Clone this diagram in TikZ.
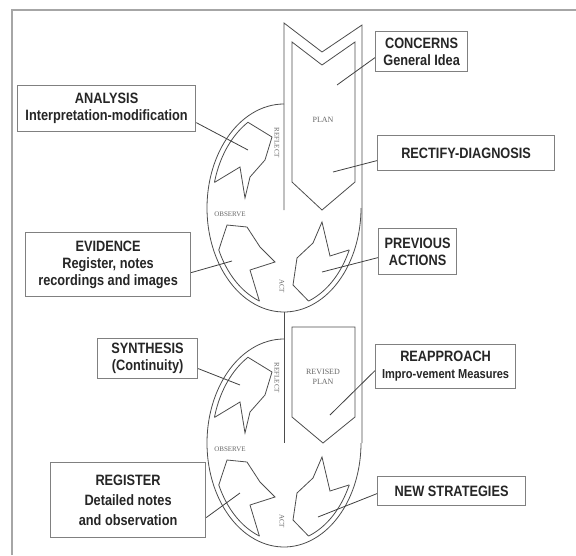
\documentclass[tikz,border=0pt]{standalone}
\usepackage{fontspec}
\newfontfamily\boxfont[FakeStretch=0.85]{Liberation Sans}
\newfontfamily\labfont{Liberation Serif}
\usetikzlibrary{calc}
\begin{document}
\begin{tikzpicture}[x=1pt,y=-1pt,
  frame/.style={draw=black!35, line width=1.6pt},
  ln/.style={draw=black!70, line width=0.8pt},
  tbox/.style={draw=black!50, line width=1.2pt, fill=white, inner sep=0pt, align=center,
    font=\boxfont\bfseries\fontsize{15}{17}\selectfont, text=black!85, anchor=north west},
  lab/.style={font=\labfont\fontsize{7}{8}\selectfont, text=black!60, inner sep=0.5pt},
  callout/.style={draw=black!75, line width=0.8pt}
]
\useasboundingbox (0,0) rectangle (576,555);
\draw[frame] (12,555) -- (12,10) -- (576,10);

% PLAN band (top)
\draw[ln] (284,210) -- (284,23) -- (322,52) -- (362,25) -- (362,443);
\draw[ln] (292,42) -- (322,65) -- (355,42) -- (355,182) -- (322,210) -- (292,182) -- cycle;
\node[lab, font=\labfont\fontsize{8}{9}\selectfont] (plan) at (323,120) {PLAN};
% line between the cycles
\draw[ln] (284,312) -- (284,443);
% REVISED PLAN
\draw[ln] (292,327) -- (355,327) -- (355,417) -- (323,443) -- (292,417) -- cycle;
\node[lab, align=center, font=\labfont\fontsize{8}{10}\selectfont] (rplan) at (323,377) {REVISED\\PLAN};

\foreach \dy/\n in {0/a,235/b}{
\begin{scope}[shift={(0,\dy)}]
  \draw[ln] plot[domain=90:360, samples=90, smooth] ({284+77*cos(\x)},{208-104*sin(\x)});
  \draw[ln] plot[domain=120:165, samples=20, smooth] ({284+72*cos(\x)},{208-99*sin(\x)});
  \draw[ln] plot[domain=205:250, samples=20, smooth] ({284+72*cos(\x)},{208-99*sin(\x)});
  \draw[ln] plot[domain=290:335, samples=20, smooth] ({284+72*cos(\x)},{208-99*sin(\x)});
  \draw[ln] (214.5,182.4) -- (240,167) -- (245,198) -- (250,177) -- (265,160) -- (272,137) -- (248,122.3);
  \draw[ln] (218.8,249.9) -- (227,225) -- (247,227) -- (260,247) -- (275,262) -- (250,270) -- (259.4,301.1);
  \draw[ln] (308.6,301.1) -- (293,285) -- (297,258) -- (313,243) -- (322,222) -- (330,256) -- (349.2,249.9);
  \node[lab, rotate=-90] (reflect\n) at (277,143) {REFLECT};
  \node[lab] (observe\n) at (230,214) {OBSERVE};
  \node[lab, rotate=-90] (act\n) at (282,286) {ACT};
\end{scope}
}

% boxes
\node[tbox, minimum width=92pt, minimum height=40pt] (concerns) at (375,31) {CONCERNS\\General Idea};
\node[tbox, minimum width=177pt, minimum height=35pt] (rectify) at (377,135) {RECTIFY-DIAGNOSIS};
\node[tbox, minimum width=78pt, minimum height=46pt] (previous) at (378,228) {PREVIOUS\\ACTIONS};
\node[tbox, minimum width=178pt, minimum height=46pt] (analysis) at (17,85) {ANALYSIS\\Interpretation-modification};
\node[tbox, minimum width=165pt, minimum height=64pt] (evidence) at (25,232) {EVIDENCE\\Register, notes\\recordings and images};
\node[tbox, minimum width=100pt, minimum height=40pt] (synthesis) at (97,338) {SYNTHESIS\\(Continuity)};
\node[tbox, minimum width=155pt, minimum height=75pt, font=\boxfont\bfseries\fontsize{15}{20}\selectfont] (register) at (50,462) {REGISTER\\Detailed notes\\and observation};
\node[tbox, minimum width=140pt, minimum height=44pt] (reapproach) at (375,344) {REAPPROACH\\{\fontsize{13}{15}\selectfont Impro-vement Measures}};
\node[tbox, minimum width=148pt, minimum height=29pt] (newstrat) at (377,476) {NEW STRATEGIES};

% callout ends
\coordinate (p1) at (337,85);
\coordinate (p2) at (333,172);
\coordinate (p3) at (322,272);
\coordinate (p4) at (248,150);
\coordinate (p5) at (232,261);
\coordinate (p6) at (240,385);
\coordinate (p7) at (240,493);
\coordinate (p8) at (330,415);
\coordinate (p9) at (318,517);

\draw[callout] ([yshift=-6pt]concerns.west) -- (p1);
\draw[callout] ([yshift=-7.5pt]rectify.west) -- (p2);
\draw[callout] ([yshift=-6pt]previous.west) -- (p3);
\draw[callout] ([yshift=-14pt]analysis.east) -- (p4);
\draw[callout] ([yshift=-8pt]evidence.east) -- (p5);
\draw[callout] ([yshift=-10pt]synthesis.east) -- (p6);
\draw[callout] ([yshift=-17.5pt]register.east) -- (p7);
\draw[callout] ([yshift=-4pt]reapproach.west) -- (p8);
\draw[callout] ([yshift=-2.5pt]newstrat.west) -- (p9);
\end{tikzpicture}
\end{document}
